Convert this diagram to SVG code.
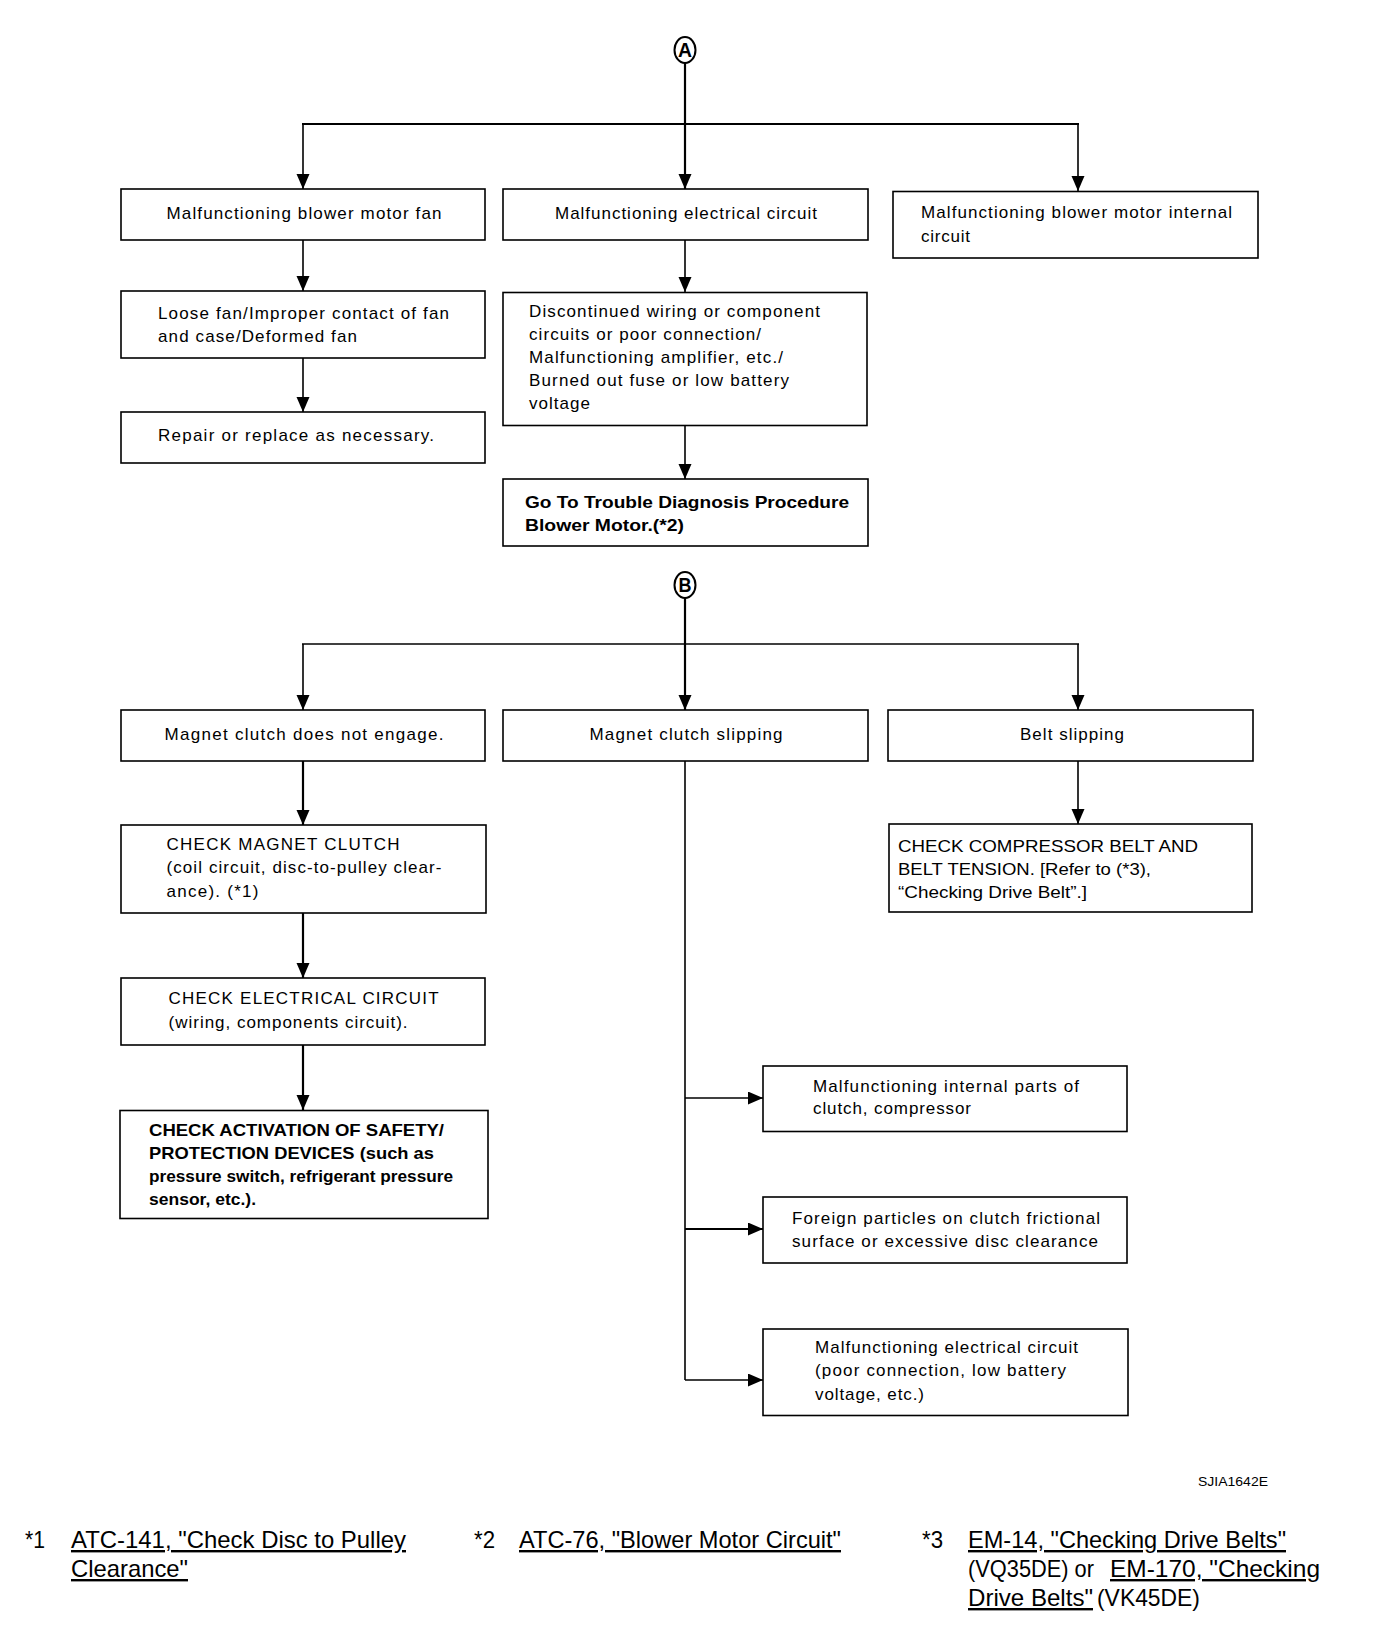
<svg xmlns="http://www.w3.org/2000/svg" width="1376" height="1632" viewBox="0 0 1376 1632">
<style>
.box{fill:#fff;stroke:#000;stroke-width:1.6}
.t{font-family:"Liberation Sans",Arial,Helvetica,sans-serif;font-size:17px;fill:#000}
.c{text-anchor:middle}
.b{font-weight:bold}
.conn{stroke:#000;stroke-width:1.6;fill:none}
.thick{stroke-width:2.2}
.ring{fill:#fff;stroke:#000;stroke-width:2}
.lbl{font-family:"Liberation Sans",Arial,Helvetica,sans-serif;font-size:20px;font-weight:bold;text-anchor:middle}
.f{font-family:"Liberation Sans",Arial,Helvetica,sans-serif;font-size:24px;fill:#000}
.u{text-decoration:underline}
</style>
<defs>
<marker id="arr" markerUnits="userSpaceOnUse" markerWidth="16" markerHeight="14" refX="15" refY="6.5" orient="auto">
<path d="M0,0 L15,6.5 L0,13 z" fill="#000"/>
</marker>
</defs>

<g id="connectors">
<line class="conn thick" x1="685" y1="63" x2="685" y2="189" marker-end="url(#arr)"/>
<line class="conn thick" x1="302" y1="124" x2="1079" y2="124"/>
<line class="conn" x1="303" y1="124" x2="303" y2="189" marker-end="url(#arr)"/>
<line class="conn" x1="1078" y1="124" x2="1078" y2="191" marker-end="url(#arr)"/>
<line class="conn" x1="303" y1="240" x2="303" y2="291" marker-end="url(#arr)"/>
<line class="conn" x1="303" y1="358" x2="303" y2="412" marker-end="url(#arr)"/>
<line class="conn" x1="685" y1="240" x2="685" y2="292" marker-end="url(#arr)"/>
<line class="conn" x1="685" y1="426" x2="685" y2="479" marker-end="url(#arr)"/>

<line class="conn thick" x1="685" y1="598" x2="685" y2="710" marker-end="url(#arr)"/>
<line class="conn" x1="302" y1="644" x2="1079" y2="644"/>
<line class="conn" x1="303" y1="644" x2="303" y2="710" marker-end="url(#arr)"/>
<line class="conn" x1="1078" y1="644" x2="1078" y2="710" marker-end="url(#arr)"/>
<line class="conn thick" x1="303" y1="761" x2="303" y2="825" marker-end="url(#arr)"/>
<line class="conn thick" x1="303" y1="913" x2="303" y2="978" marker-end="url(#arr)"/>
<line class="conn thick" x1="303" y1="1045" x2="303" y2="1110" marker-end="url(#arr)"/>
<line class="conn" x1="1078" y1="761" x2="1078" y2="824" marker-end="url(#arr)"/>
<line class="conn" x1="685" y1="761" x2="685" y2="1380"/>
<line class="conn" x1="685" y1="1098" x2="763" y2="1098" marker-end="url(#arr)"/>
<line class="conn thick" x1="685" y1="1229" x2="763" y2="1229" marker-end="url(#arr)"/>
<line class="conn" x1="685" y1="1380" x2="763" y2="1380" marker-end="url(#arr)"/>
</g>

<g id="connA">
<ellipse class="ring" cx="685" cy="50" rx="10.5" ry="13"/>
<text class="lbl" x="685" y="57" textLength="14" lengthAdjust="spacingAndGlyphs">A</text>
</g>
<g id="connB">
<ellipse class="ring" cx="685" cy="585" rx="10.5" ry="13"/>
<text class="lbl" x="685" y="592" textLength="13" lengthAdjust="spacingAndGlyphs">B</text>
</g>

<g id="a_fan">
<rect class="box" x="121" y="189" width="364" height="51"/>
<text class="t c" x="304" y="219" textLength="275" lengthAdjust="spacing">Malfunctioning blower motor fan</text>
</g>
<g id="a_elec">
<rect class="box" x="503" y="189" width="365" height="51"/>
<text class="t c" x="686" y="219" textLength="262" lengthAdjust="spacing">Malfunctioning electrical circuit</text>
</g>
<g id="a_internal">
<rect class="box" x="893" y="191.5" width="365" height="66.5"/>
<text class="t" x="921" y="218" textLength="311" lengthAdjust="spacing">Malfunctioning blower motor internal</text>
<text class="t" x="921" y="242" textLength="49" lengthAdjust="spacing">circuit</text>
</g>
<g id="a_loose">
<rect class="box" x="121" y="291" width="364" height="67"/>
<text class="t" x="158" y="319" textLength="291" lengthAdjust="spacing">Loose fan/Improper contact of fan</text>
<text class="t" x="158" y="342" textLength="199" lengthAdjust="spacing">and case/Deformed fan</text>
</g>
<g id="a_repair">
<rect class="box" x="121" y="412" width="364" height="51"/>
<text class="t" x="158" y="441" textLength="276" lengthAdjust="spacing">Repair or replace as necessary.</text>
</g>
<g id="a_wiring">
<rect class="box" x="503" y="292.5" width="364" height="133"/>
<text class="t" x="529" y="317" textLength="291" lengthAdjust="spacing">Discontinued wiring or component</text>
<text class="t" x="529" y="340" textLength="232" lengthAdjust="spacing">circuits or poor connection/</text>
<text class="t" x="529" y="363" textLength="254" lengthAdjust="spacing">Malfunctioning amplifier, etc./</text>
<text class="t" x="529" y="386" textLength="260" lengthAdjust="spacing">Burned out fuse or low battery</text>
<text class="t" x="529" y="409" textLength="61" lengthAdjust="spacing">voltage</text>
</g>
<g id="a_goto">
<rect class="box" x="503" y="479" width="365" height="67"/>
<text class="t b" x="525" y="508" textLength="324" lengthAdjust="spacingAndGlyphs">Go To Trouble Diagnosis Procedure</text>
<text class="t b" x="525" y="531" textLength="159" lengthAdjust="spacingAndGlyphs">Blower Motor.(*2)</text>
</g>

<g id="b_noengage">
<rect class="box" x="121" y="710" width="364" height="51"/>
<text class="t c" x="304" y="740" textLength="279" lengthAdjust="spacing">Magnet clutch does not engage.</text>
</g>
<g id="b_clutchslip">
<rect class="box" x="503" y="710" width="365" height="51"/>
<text class="t c" x="686" y="740" textLength="193" lengthAdjust="spacing">Magnet clutch slipping</text>
</g>
<g id="b_beltslip">
<rect class="box" x="888" y="710" width="365" height="51"/>
<text class="t c" x="1072" y="740" textLength="104" lengthAdjust="spacing">Belt slipping</text>
</g>
<g id="b_checkclutch">
<rect class="box" x="121" y="825" width="365" height="88"/>
<text class="t" x="166.5" y="850" textLength="233" lengthAdjust="spacing">CHECK MAGNET CLUTCH</text>
<text class="t" x="166.5" y="873" textLength="275" lengthAdjust="spacing">(coil circuit, disc-to-pulley clear-</text>
<text class="t" x="166.5" y="897" textLength="92" lengthAdjust="spacing">ance). (*1)</text>
</g>
<g id="b_checkelec">
<rect class="box" x="121" y="978" width="364" height="67"/>
<text class="t" x="168.6" y="1004" textLength="270" lengthAdjust="spacing">CHECK ELECTRICAL CIRCUIT</text>
<text class="t" x="168.6" y="1028" textLength="239" lengthAdjust="spacing">(wiring, components circuit).</text>
</g>
<g id="b_safety">
<rect class="box" x="120" y="1110.5" width="368" height="108"/>
<text class="t b" x="149" y="1136" textLength="295" lengthAdjust="spacingAndGlyphs">CHECK ACTIVATION OF SAFETY/</text>
<text class="t b" x="149" y="1159" textLength="285" lengthAdjust="spacingAndGlyphs">PROTECTION DEVICES (such as</text>
<text class="t b" x="149" y="1182" textLength="304" lengthAdjust="spacingAndGlyphs">pressure switch, refrigerant pressure</text>
<text class="t b" x="149" y="1205" textLength="107" lengthAdjust="spacingAndGlyphs">sensor, etc.).</text>
</g>
<g id="b_checkbelt">
<rect class="box" x="889" y="824" width="363" height="88"/>
<text class="t" x="898" y="852" textLength="300" lengthAdjust="spacingAndGlyphs">CHECK COMPRESSOR BELT AND</text>
<text class="t" x="898" y="875" textLength="253" lengthAdjust="spacingAndGlyphs">BELT TENSION. [Refer to (*3),</text>
<text class="t" x="898" y="898" textLength="189" lengthAdjust="spacingAndGlyphs">“Checking Drive Belt”.]</text>
</g>
<g id="b_internal">
<rect class="box" x="763" y="1066" width="364" height="65.5"/>
<text class="t" x="813" y="1092" textLength="266" lengthAdjust="spacing">Malfunctioning internal parts of</text>
<text class="t" x="813" y="1114" textLength="158" lengthAdjust="spacing">clutch, compressor</text>
</g>
<g id="b_foreign">
<rect class="box" x="763" y="1197" width="364" height="66"/>
<text class="t" x="792" y="1224" textLength="308" lengthAdjust="spacing">Foreign particles on clutch frictional</text>
<text class="t" x="792" y="1247" textLength="306" lengthAdjust="spacing">surface or excessive disc clearance</text>
</g>
<g id="b_elec">
<rect class="box" x="763" y="1329" width="365" height="86.5"/>
<text class="t" x="815" y="1353" textLength="263" lengthAdjust="spacing">Malfunctioning electrical circuit</text>
<text class="t" x="815" y="1376" textLength="251" lengthAdjust="spacing">(poor connection, low battery</text>
<text class="t" x="815" y="1400" textLength="109" lengthAdjust="spacing">voltage, etc.)</text>
</g>

<g id="footer">
<text x="1198" y="1486" font-family="Liberation Sans, Arial, sans-serif" font-size="13" textLength="70" lengthAdjust="spacingAndGlyphs">SJIA1642E</text>
<text class="f" x="25" y="1548" textLength="20" lengthAdjust="spacingAndGlyphs">*1</text>
<text class="f u" x="71" y="1548" textLength="335" lengthAdjust="spacingAndGlyphs">ATC-141, "Check Disc to Pulley</text>
<text class="f u" x="71" y="1577" textLength="117" lengthAdjust="spacingAndGlyphs">Clearance"</text>
<text class="f" x="474" y="1548" textLength="21" lengthAdjust="spacingAndGlyphs">*2</text>
<text class="f u" x="519" y="1548" textLength="322" lengthAdjust="spacingAndGlyphs">ATC-76, "Blower Motor Circuit"</text>
<text class="f" x="922" y="1548" textLength="21" lengthAdjust="spacingAndGlyphs">*3</text>
<text class="f u" x="968" y="1548" textLength="318" lengthAdjust="spacingAndGlyphs">EM-14, "Checking Drive Belts"</text>
<text class="f" x="968" y="1577" textLength="126" lengthAdjust="spacingAndGlyphs">(VQ35DE) or</text>
<text class="f u" x="1110" y="1577" textLength="210" lengthAdjust="spacingAndGlyphs">EM-170, "Checking</text>
<text class="f u" x="968" y="1606" textLength="125" lengthAdjust="spacingAndGlyphs">Drive Belts"</text>
<text class="f" x="1097" y="1606" textLength="103" lengthAdjust="spacingAndGlyphs">(VK45DE)</text>
</g>
</svg>
